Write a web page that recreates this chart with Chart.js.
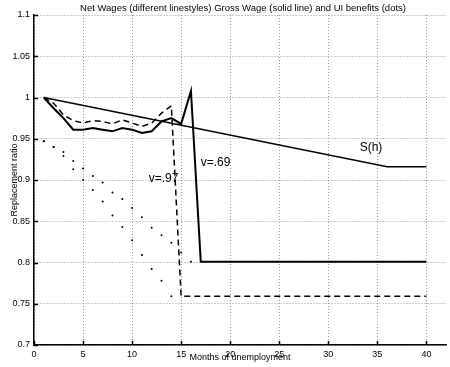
<!DOCTYPE html>
<html>
<head>
<meta charset="utf-8">
<script src="https://cdn.jsdelivr.net/npm/chart.js@4.4.1/dist/chart.umd.min.js"></script>
<style>
  html, body { margin: 0; padding: 0; background: #fff; }
  #wrap { width: 450px; height: 367px; }
</style>
</head>
<body>
<div id="wrap"><canvas id="chart" width="450" height="367"></canvas></div>
<script>
// Данные
const xTicks = [0, 5, 10, 15, 20, 25, 30, 35, 40];
const yTicks = [0.7, 0.75, 0.8, 0.85, 0.9, 0.95, 1, 1.05, 1.1];

// Gross wage S(h)
const grossX = [1, 36, 40];
const grossY = [1.0, 0.916, 0.916];

// Net wage, v=.69 (сплошная)
const net69X = [1, 2, 3, 4, 5, 6, 7, 8, 9, 10, 11, 12, 13, 14, 15, 16, 17, 40];
const net69Y = [1.0, 0.987, 0.975, 0.961, 0.961, 0.963, 0.961, 0.959, 0.963, 0.961, 0.957, 0.959, 0.971, 0.975, 0.968, 1.008, 0.801, 0.801];

// Net wage, v=.97 (пунктир)
const net97X = [1, 2, 3, 4, 5, 6, 7, 8, 9, 10, 11, 12, 13, 14, 15, 40];
const net97Y = [1.0, 0.993, 0.979, 0.972, 0.969, 0.972, 0.971, 0.968, 0.973, 0.969, 0.965, 0.969, 0.981, 0.99, 0.759, 0.759];

// UI benefits (точки)
const ui69X = [1, 2, 3, 4, 5, 6, 7, 8, 9, 10, 11, 12, 13, 14, 15, 16];
const ui69Y = [0.947, 0.94, 0.934, 0.923, 0.914, 0.905, 0.897, 0.885, 0.877, 0.866, 0.855, 0.842, 0.833, 0.824, 0.812, 0.801];
const ui97X = [1, 2, 3, 4, 5, 6, 7, 8, 9, 10, 11, 12, 13, 14];
const ui97Y = [0.947, 0.94, 0.929, 0.913, 0.9, 0.888, 0.874, 0.857, 0.843, 0.827, 0.809, 0.792, 0.778, 0.759];

// Подписи на графике
const notes = [
    { text: 'S(h)', x: 33.2, y: 0.939, size: 12 },
    { text: 'v=.69', x: 17.0, y: 0.921, size: 12 },
    { text: 'v=.97', x: 11.7, y: 0.901, size: 12 }
];

const titleText = 'Net Wages (different linestyles) Gross Wage (solid line) and UI benefits (dots)';
const xTitle = 'Months of unemployment';
const yTitle = 'Replacement ratio';

const FONT = '"Liberation Sans", Arial, sans-serif';

function pts(xs, ys) {
    return xs.map((x, i) => ({ x: x, y: ys[i] }));
}

// Текст и засечки поверх графика
const textPlugin = {
    id: 'texts',
    afterDraw(chart) {
        const ctx = chart.ctx;
        const xs = chart.scales.x;
        const ys = chart.scales.y;
        const area = chart.chartArea;
        ctx.save();

        // засечки внутрь, как в matlab
        ctx.strokeStyle = '#000';
        ctx.lineWidth = 1.5;
        ctx.beginPath();
        for (const v of xTicks) {
            const px = Math.round(xs.getPixelForValue(v)) + 0.5;
            ctx.moveTo(px, area.bottom);
            ctx.lineTo(px, area.bottom - 4);
        }
        for (const v of yTicks) {
            const py = Math.round(ys.getPixelForValue(v)) + 0.5;
            ctx.moveTo(area.left, py);
            ctx.lineTo(area.left + 4, py);
        }
        ctx.stroke();

        ctx.fillStyle = '#000';
        ctx.textBaseline = 'middle';

        ctx.font = '9.5px ' + FONT;
        ctx.textAlign = 'center';
        ctx.fillText(titleText, 243, 8);

        ctx.font = '9px ' + FONT;
        ctx.fillText(xTitle, xs.getPixelForValue(21), 358);

        ctx.save();
        ctx.translate(15, (area.top + area.bottom) / 2);
        ctx.rotate(-Math.PI / 2);
        ctx.fillText(yTitle, 0, 0);
        ctx.restore();

        ctx.textAlign = 'left';
        for (const n of notes) {
            ctx.font = n.size + 'px ' + FONT;
            ctx.fillText(n.text, xs.getPixelForValue(n.x), ys.getPixelForValue(n.y));
        }
        ctx.restore();
    }
};

new Chart(document.getElementById('chart'), {
    type: 'line',
    data: {
        datasets: [
            { data: pts(grossX, grossY), borderColor: '#000', borderWidth: 1.5, pointRadius: 0, tension: 0 },
            { data: pts(net69X, net69Y), borderColor: '#000', borderWidth: 2, pointRadius: 0, tension: 0 },
            { data: pts(net97X, net97Y), borderColor: '#000', borderWidth: 1.5, borderDash: [6, 4], pointRadius: 0, tension: 0 },
            { data: pts(ui69X, ui69Y), showLine: false, pointRadius: 1, pointBorderWidth: 0, pointBackgroundColor: '#000' },
            { data: pts(ui97X, ui97Y), showLine: false, pointRadius: 1, pointBorderWidth: 0, pointBackgroundColor: '#000' }
        ]
    },
    options: {
        responsive: false,
        animation: false,
        layout: { padding: { top: 15, left: 0, right: 0, bottom: 0 } },
        plugins: {
            legend: { display: false },
            tooltip: { enabled: false }
        },
        scales: {
            x: {
                type: 'linear',
                min: 0,
                max: 42,
                afterBuildTicks: s => { s.ticks = xTicks.map(v => ({ value: v })); },
                afterFit: s => { s.height = 22; },
                grid: { color: '#999', lineWidth: 1, drawTicks: false },
                border: { color: '#000', width: 1.5, dash: [1, 2] },
                ticks: { color: '#000', padding: 4, maxRotation: 0, font: { family: FONT, size: 9 } }
            },
            y: {
                min: 0.7,
                max: 1.1,
                afterBuildTicks: s => { s.ticks = yTicks.map(v => ({ value: v })); },
                afterFit: s => { s.width = 34; },
                grid: { color: '#999', lineWidth: 1, drawTicks: false },
                border: { color: '#000', width: 1.5, dash: [1, 2] },
                ticks: {
                    color: '#000', padding: 4, font: { family: FONT, size: 9 },
                    callback: v => String(+Number(v).toFixed(2))
                }
            }
        }
    },
    plugins: [textPlugin]
});
</script>
</body>
</html>
